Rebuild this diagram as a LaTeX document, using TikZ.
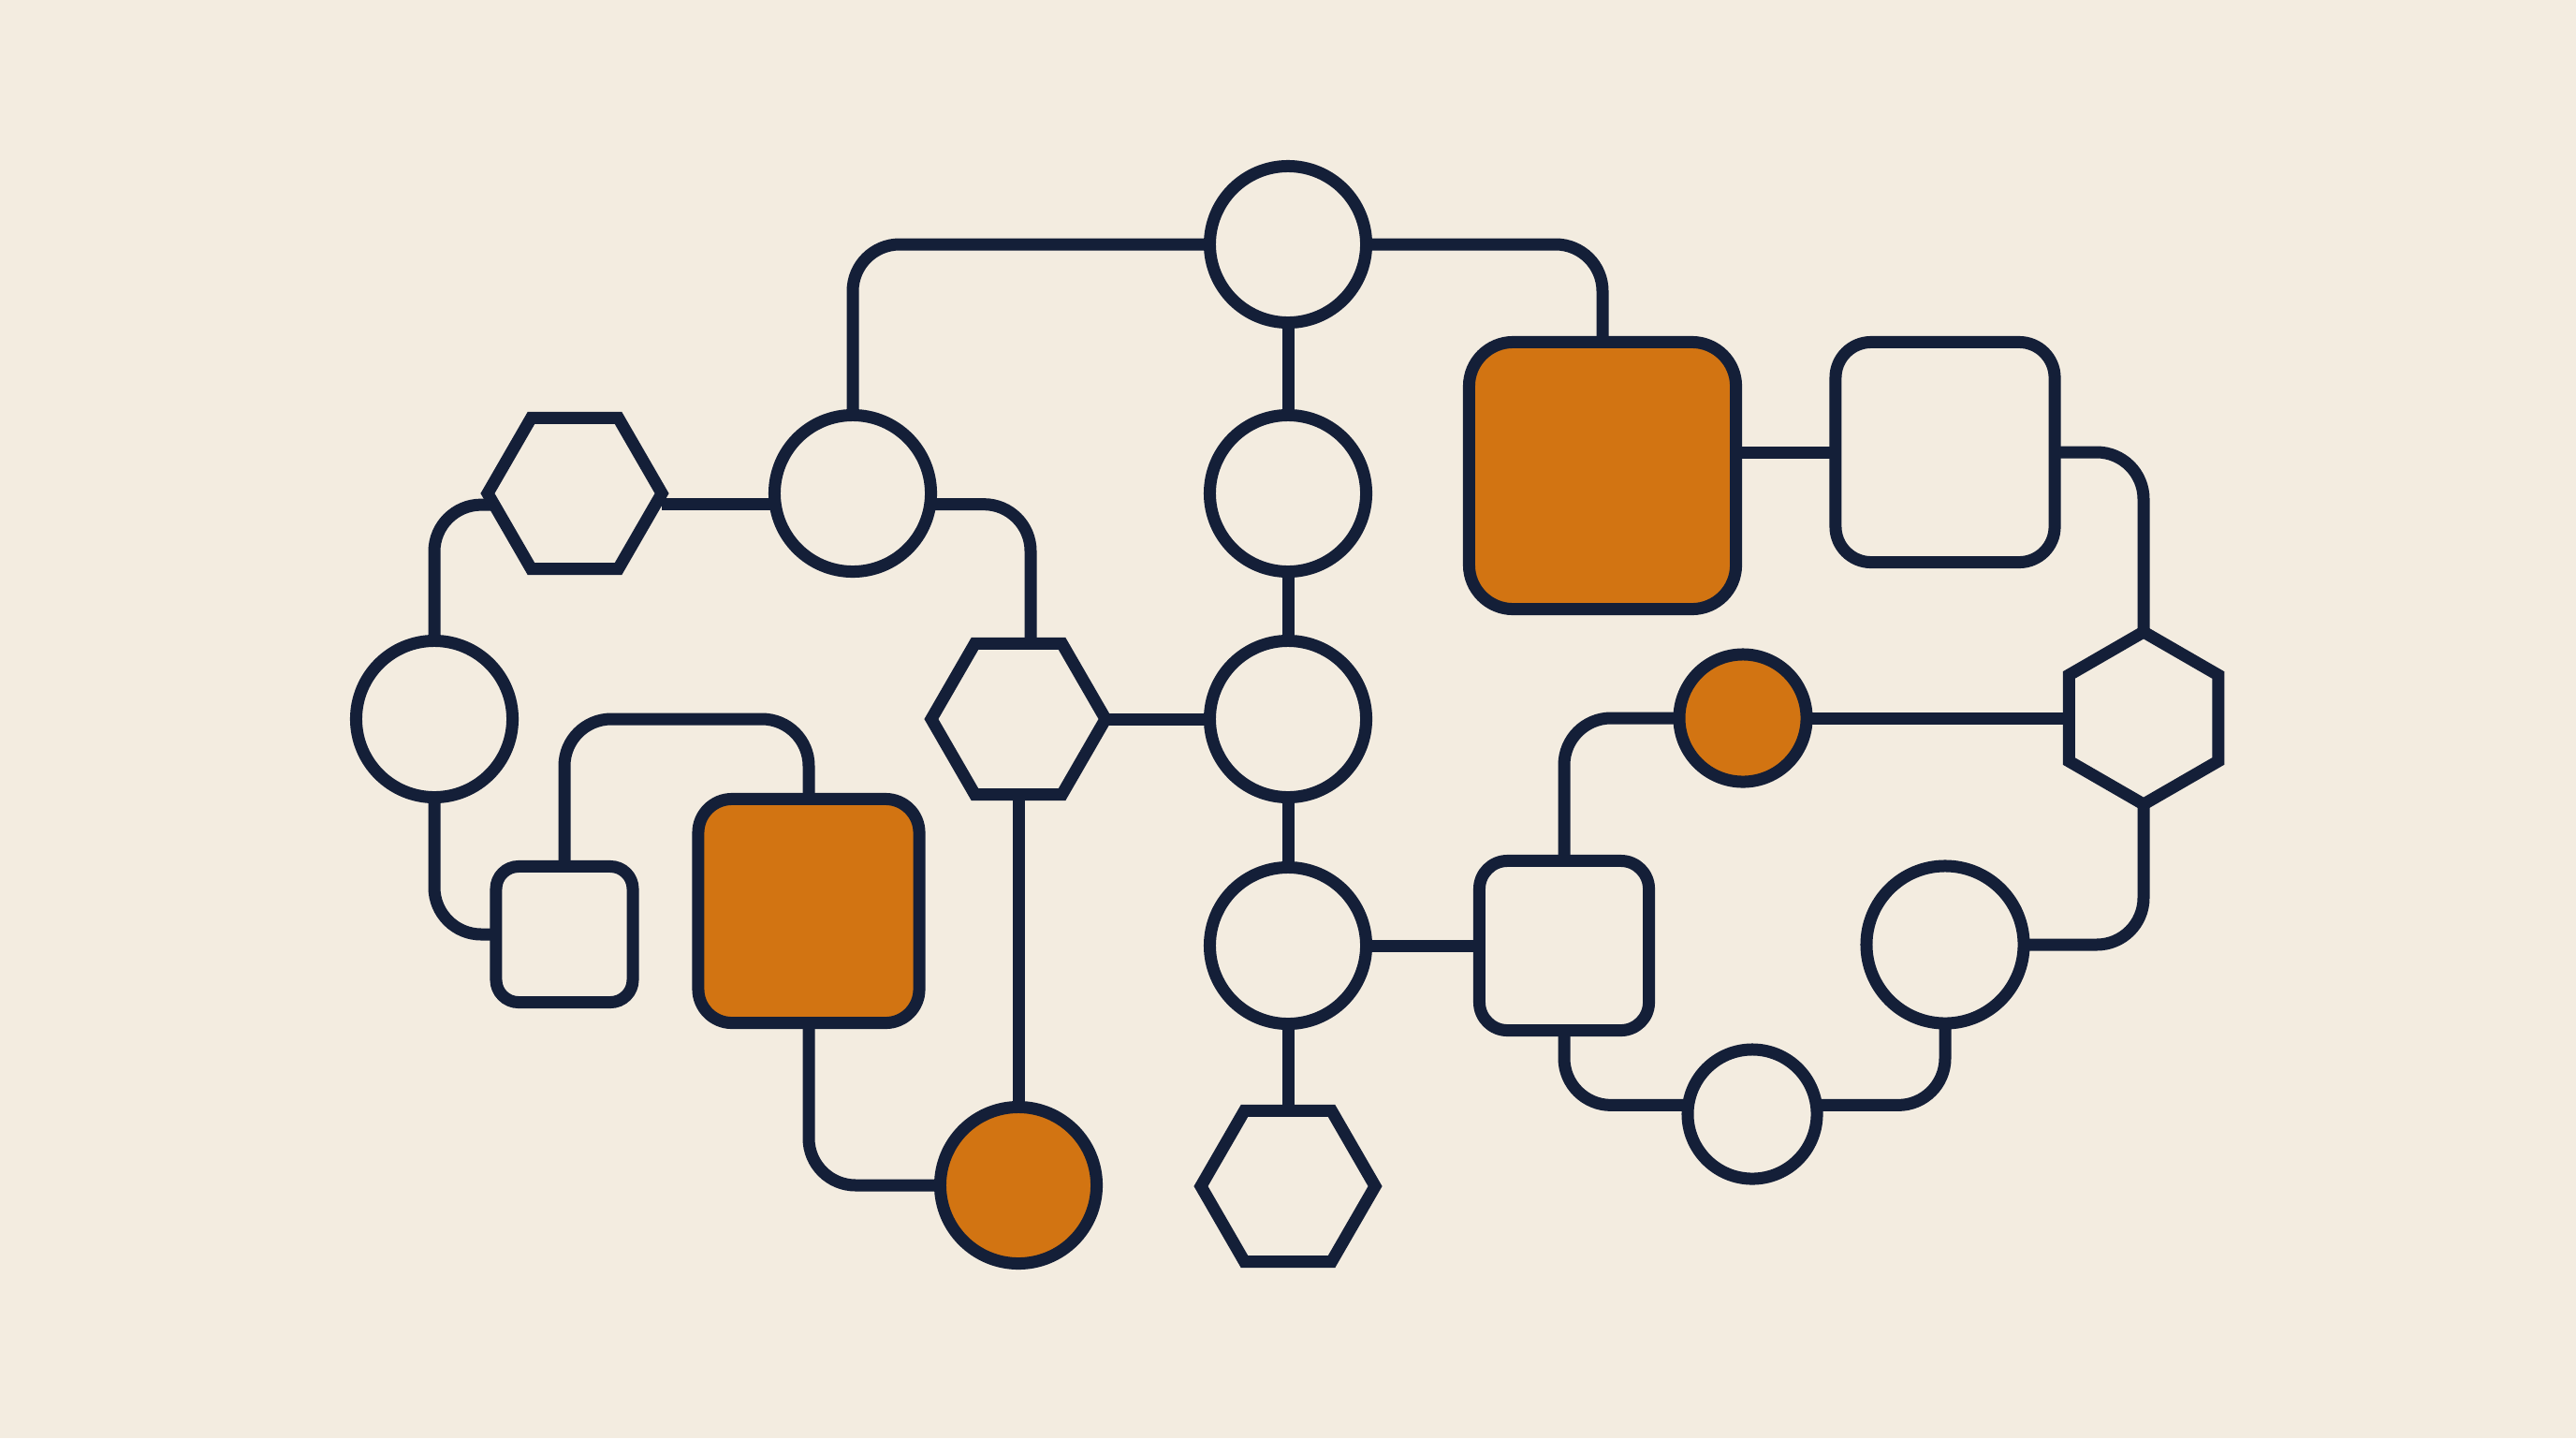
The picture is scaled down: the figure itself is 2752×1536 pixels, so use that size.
\documentclass[tikz,border=0pt]{standalone}
\usepackage{tikz}
\usetikzlibrary{shapes.geometric}
\definecolor{paper}{RGB}{243,236,224}
\definecolor{ink}{RGB}{20,31,56}
\definecolor{amber}{RGB}{210,116,18}

\begin{document}
\begin{tikzpicture}
		[x=0.01cm,y=-0.01cm,
		ring/.style={circle,draw=ink,fill=paper,line width=0.13cm,inner sep=0pt,outer sep=0pt,minimum size=1.67cm},
		dot/.style={ring,minimum size=1.37cm},
		box/.style={rectangle,draw=ink,fill=paper,line width=0.13cm,inner sep=0pt,outer sep=0pt},
		hexa/.style={regular polygon,regular polygon sides=6,draw=ink,fill=paper,line width=0.13cm,inner sep=0pt,outer sep=0pt,minimum size=1.86cm},
		hot/.style={fill=amber},
		link/.style={draw=ink,line width=0.13cm,rounded corners=0.5cm}]
		% the background
		\fill [paper] (0,0) rectangle (2752,1536);

		% draw the central column
		\node [ring] (C1) at (1376,261) {};
		\node [ring] (C2) at (1376,527) {};
		\node [ring] (C3) at (1376,768) {};
		\node [ring] (C4) at (1376,1010) {};
		\node [hexa] (Hb) at (1376,1267) {};

		% draw the left group
		\node [ring] (C5) at (911,527) {};
		\node [hexa] (H1) at (614,527) {};
		\node [ring] (C6) at (464,768) {};
		\node [box,rounded corners=0.24cm,minimum width=1.46cm,minimum height=1.45cm] (S1) at (603,998) {};
		\node [box,hot,rounded corners=0.36cm,minimum width=2.36cm,minimum height=2.39cm] (O1) at (864,973) {};
		\node [hexa] (H2) at (1088,768) {};
		\node [ring,hot] (O2) at (1088,1266) {};

		% draw the right group
		\node [box,hot,rounded corners=0.47cm,minimum size=2.85cm] (O3) at (1712,508) {};
		\node [box,rounded corners=0.38cm,minimum width=2.34cm,minimum height=2.35cm] (R1) at (2078,483) {};
		\node [hexa,minimum size=1.84cm,shape border rotate=30] (H3) at (2290,767) {};
		\node [dot,hot,minimum size=1.36cm] (O4) at (1862,767) {};
		\node [box,rounded corners=0.3cm,minimum size=1.81cm] (S2) at (1671,1010) {};
		\node [ring,minimum size=1.68cm] (C7) at (2078,1009) {};
		\node [dot,minimum size=1.38cm] (C8) at (1872,1190) {};

		% draw the links
		\draw [link] (C1) -- (C2);
		\draw [link] (C2) -- (C3);
		\draw [link] (C3) -- (C4);
		\draw [link] (C4) -- (Hb);
		\draw [link] (C1) -| (C5);
		\draw [link] (C1) -| (O3);
		\draw [link] (C5.188) -- (C5.188 -| H1.east);
		\draw [link] (C5.-8) -| ([xshift=0.13cm]H2.north);
		\draw [link] (C6) |- (H1.188);
		\draw [link] (C6) |- (S1);
		\draw [link] (S1) -- (S1 |- C6) -| (O1);
		\draw [link] (O1) |- (O2);
		\draw [link] (H2) -- (O2);
		\draw [link] (H2) -- (C3);
		\draw [link] (O3.east |- R1.west) -- (R1.west);
		\draw [link] (R1) -| (H3);
		\draw [link] (H3) |- (C7);
		\draw [link] (O4) -- (H3);
		\draw [link] (O4) -| (S2);
		\draw [link] (C4) -- (S2);
		\draw [link] (S2) |- (C8.172);
		\draw [link] (C8.8) -| (C7);
	\end{tikzpicture}
\end{document}
